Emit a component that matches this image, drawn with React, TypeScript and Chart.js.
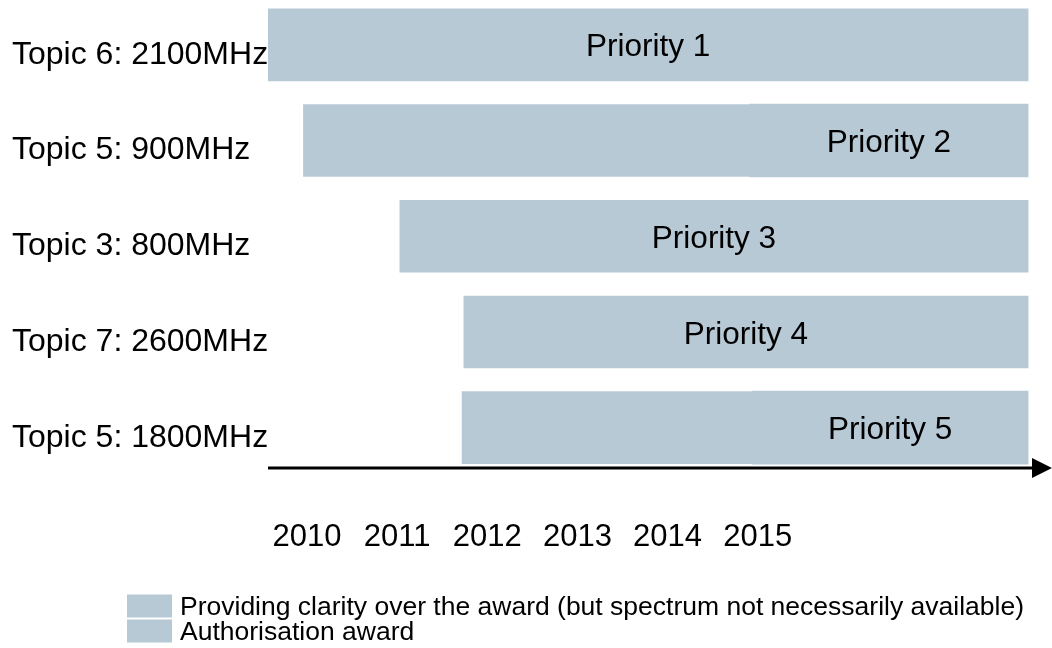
import React, { useEffect, useRef } from 'react';
import { Chart, registerables } from 'chart.js';

Chart.register(...registerables);

const categories = ['Topic 6: 2100MHz', 'Topic 5: 900MHz', 'Topic 3: 800MHz', 'Topic 7: 2600MHz', 'Topic 5: 1800MHz'];
const priorityLabels = ['Priority 1', 'Priority 2', 'Priority 3', 'Priority 4', 'Priority 5'];
const years = [2010, 2011, 2012, 2013, 2014, 2015];
const clarityStart = [2009.57, 2009.96, 2011.03, 2011.74, 2011.72];
const clarityEnd = [2018.0, 2014.91, 2018.0, 2018.0, 2014.94];
const authorisationStart: (number | null)[] = [null, 2014.91, null, null, 2014.94];
const authorisationEnd: (number | null)[] = [null, 2018.0, null, null, 2018.0];
const seriesNames = ['Providing clarity over the award (but spectrum not necessarily available)', 'Authorisation award'];
const seriesColors = ['#b8c9d6', '#b8c9d6'];

const FONT = '"Liberation Sans", Arial, sans-serif';

function floatBars(starts: (number | null)[], ends: (number | null)[]) {
  const out: { x: [number, number]; y: number }[] = [];
  starts.forEach((s, i) => {
    const e = ends[i];
    if (s != null && e != null) out.push({ x: [s, e], y: i });
  });
  return out;
}

const decorPlugin = {
  id: 'decor',
  afterDatasetsDraw(chart: any) {
    const { ctx, chartArea, scales } = chart;
    const xs = scales.x;
    const ys = scales.y;
    ctx.save();
    // priority labels centered in last segment of each row
    ctx.font = `31.5px ${FONT}`;
    ctx.fillStyle = '#000';
    ctx.textAlign = 'center';
    ctx.textBaseline = 'middle';
    categories.forEach((_, i) => {
      let a: number, b: number;
      if (authorisationStart[i] != null && authorisationEnd[i] != null) {
        a = authorisationStart[i] as number;
        b = authorisationEnd[i] as number;
      } else {
        a = clarityStart[i];
        b = clarityEnd[i];
      }
      const cx = (xs.getPixelForValue(a) + xs.getPixelForValue(b)) / 2;
      const cy = ys.getPixelForValue(i) + 3;
      ctx.fillText(priorityLabels[i], cx, cy);
    });
    // axis arrow
    const y = chartArea.bottom;
    ctx.strokeStyle = '#000';
    ctx.fillStyle = '#000';
    ctx.lineWidth = 3;
    ctx.beginPath();
    ctx.moveTo(chartArea.left, y);
    ctx.lineTo(chartArea.right + 2, y);
    ctx.stroke();
    ctx.beginPath();
    ctx.moveTo(chartArea.right, y - 10);
    ctx.lineTo(chartArea.right + 20, y);
    ctx.lineTo(chartArea.right, y + 10);
    ctx.closePath();
    ctx.fill();
    // legend
    ctx.font = `26.5px ${FONT}`;
    ctx.textAlign = 'left';
    const rowCenters = [chart.height - 42, chart.height - 17];
    seriesNames.forEach((name, k) => {
      const cyL = rowCenters[k];
      ctx.fillStyle = seriesColors[k];
      ctx.fillRect(127, cyL - 11.5, 45, 23);
      ctx.fillStyle = '#000';
      ctx.fillText(name, 180, cyL + 1.5);
    });
    ctx.restore();
  },
};

export default function App() {
  const canvasRef = useRef<HTMLCanvasElement | null>(null);

  useEffect(() => {
    if (!canvasRef.current) return;
    Chart.defaults.font.family = FONT;
    const chart = new Chart(canvasRef.current, {
      type: 'bar',
      data: {
        datasets: [
          {
            label: seriesNames[0],
            data: floatBars(clarityStart, clarityEnd) as any,
            backgroundColor: seriesColors[0],
            borderWidth: 0,
            barThickness: 72,
            grouped: false,
          } as any,
          {
            label: seriesNames[1],
            data: floatBars(authorisationStart, authorisationEnd) as any,
            backgroundColor: seriesColors[1],
            borderWidth: 0,
            barThickness: 73,
            grouped: false,
          } as any,
        ],
      },
      options: {
        indexAxis: 'y',
        animation: false,
        responsive: true,
        maintainAspectRatio: false,
        layout: { padding: { left: 12, right: 20, top: 0, bottom: 0 } },
        plugins: {
          legend: { display: false },
          tooltip: { enabled: false },
        },
        scales: {
          x: {
            type: 'linear',
            offset: false,
            min: 2009.567,
            max: 2018.043,
            grid: { display: false, drawTicks: false, offset: false },
            border: { display: false },
            afterBuildTicks: (scale: any) => {
              scale.ticks = years.map((v) => ({ value: v }));
            },
            afterFit: (scale: any) => {
              scale.height = 180;
              scale.paddingLeft = 0;
              scale.paddingRight = 0;
            },
            ticks: {
              autoSkip: false,
              maxRotation: 0,
              padding: 51,
              color: '#000',
              font: { size: 31, family: FONT },
              callback: (v: any) => String(v),
            },
          },
          y: {
            type: 'linear',
            offset: false,
            reverse: true,
            min: -0.468,
            max: 4.421,
            grid: { display: false, drawTicks: false, offset: false },
            border: { display: false },
            afterBuildTicks: (scale: any) => {
              scale.ticks = categories.map((_, i) => ({ value: i }));
            },
            afterFit: (scale: any) => {
              scale.width = 256;
              scale.paddingTop = 0;
              scale.paddingBottom = 0;
            },
            ticks: {
              autoSkip: false,
              crossAlign: 'far',
              labelOffset: 10,
              padding: 0,
              color: '#000',
              font: { size: 32, family: FONT },
              callback: (v: any) => categories[v] ?? '',
            },
          },
        },
      } as any,
      plugins: [decorPlugin],
    });
    return () => chart.destroy();
  }, []);

  return (
    <div style={{ position: 'fixed', left: 0, top: 0, width: 1052, height: 648, background: '#fff' }}>
      <canvas ref={canvasRef} />
    </div>
  );
}
